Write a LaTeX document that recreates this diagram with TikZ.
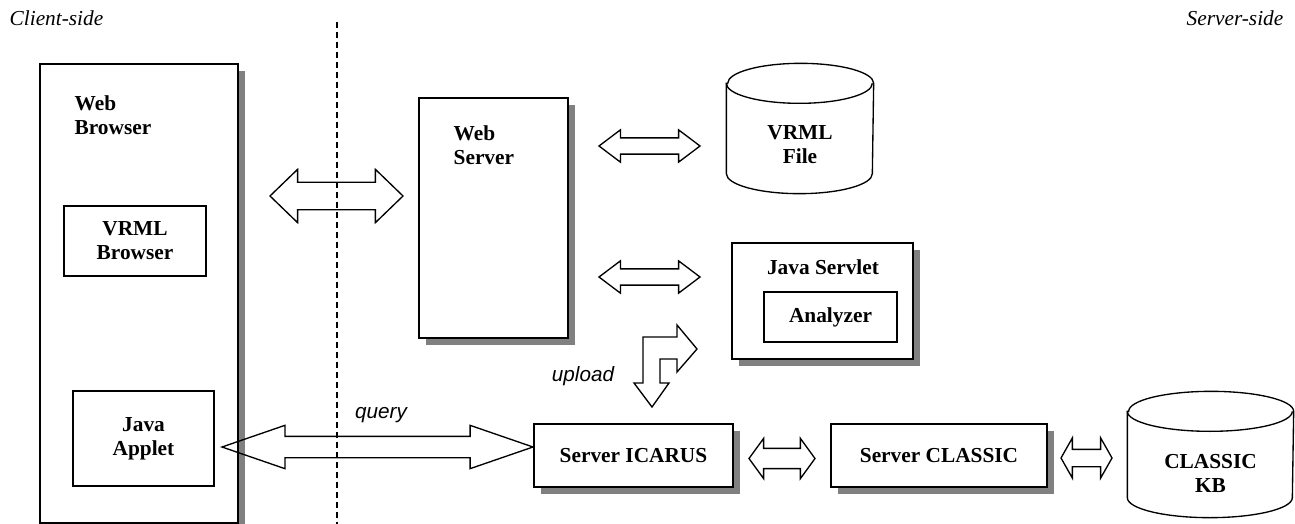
\documentclass[tikz,border=0pt]{standalone}
\usepackage{fontspec}
\setmainfont{Liberation Serif}
\newfontfamily\sansit{Liberation Sans}
\usetikzlibrary{shapes.arrows,shadows,calc}

\tikzset{every picture/.style={line width=1pt}}
\tikzset{
  blockbox/.style={draw, fill=white, inner sep=0pt, align=center, font=\bfseries\fontsize{16}{18}\selectfont},
  shadowed/.style={drop shadow={shadow xshift=5pt, shadow yshift=-5pt, fill=black!50, opacity=1}},
  boxlabel/.style={inner sep=0.75pt, align=left, font=\bfseries\fontsize{16}{18}\selectfont},
  sidelabel/.style={inner sep=0.75pt, font=\itshape\fontsize{16}{18}\selectfont},
  msglabel/.style={inner sep=0.75pt, font=\sansit\itshape\fontsize{15.5}{18}\selectfont},
  fatarrow/.style={double arrow, draw, inner xsep=0pt, double arrow head indent=0pt},
}

\begin{document}
\begin{tikzpicture}[x=0.75pt,y=0.75pt,yscale=-1,xscale=1]
%set diagram left start at 0, and has height of 524
\path [use as bounding box] (0,0) rectangle (1295,524);

% Text Node
\node [sidelabel, anchor=west] (clientside) at (8,18) {Client-side};
% Text Node
\node [sidelabel, anchor=east] (serverside) at (1285,18) {Server-side};

%Shape: Rectangle [Web Browser]
\node [blockbox, shadowed, minimum width=148.5pt, minimum height=344.25pt] (browser) at (139,293.5) {};
\node [boxlabel, anchor=west] (browserlbl) at (73,115.5) {Web\\Browser};
%Shape: Rectangle [VRML Browser]
\node [blockbox, minimum width=106.5pt, minimum height=52.5pt] (vrmlbrowser) at (135,241) {VRML\\Browser};
%Shape: Rectangle [Java Applet]
\node [blockbox, minimum width=105.75pt, minimum height=71.25pt] (applet) at (143.5,438.5) {Java\\Applet};

%Shape: Rectangle [Web Server]
\node [blockbox, shadowed, minimum width=111.75pt, minimum height=180pt] (webserver) at (493.5,218) {};
\node [boxlabel, anchor=west] (webserverlbl) at (452,145) {Web\\Server};

%Shape: Can [VRML File]
\node [inner sep=0pt, minimum width=109.5pt, minimum height=96.75pt] (vrmlfile) at (800,128.5) {};
\draw [fill=white] ($(vrmlfile.north west)+(0,20)$) -- ($(vrmlfile.south west)+(0,-20)$) arc [start angle=180, end angle=0, x radius=73, y radius=20] -- ($(vrmlfile.north east)+(0,20)$) arc [start angle=0, end angle=-180, x radius=73, y radius=20] -- cycle;
\draw ($(vrmlfile.north west)+(0,20)$) arc [start angle=180, end angle=0, x radius=73, y radius=20];
\node [boxlabel, align=center] (vrmlfilelbl) at (800,144.5) {VRML\\File};

%Shape: Rectangle [Java Servlet]
\node [blockbox, shadowed, minimum width=135.75pt, minimum height=87pt] (servlet) at (822.5,301) {};
\node [boxlabel] (servletlbl) at (823,267) {Java Servlet};
\node [blockbox, minimum width=99.75pt, minimum height=37.5pt] (analyzer) at (830.5,317) {Analyzer};

%Shape: Rectangle [Server ICARUS]
\node [blockbox, shadowed, minimum width=149.25pt, minimum height=47.25pt] (icarus) at (633.5,455.5) {Server ICARUS};
%Shape: Rectangle [Server CLASSIC]
\node [blockbox, shadowed, minimum width=162pt, minimum height=47.25pt] (classic) at (939,455.5) {Server CLASSIC};

%Shape: Can [CLASSIC KB]
\node [inner sep=0pt, minimum width=123.75pt, minimum height=93.75pt] (kb) at (1210.5,454.5) {};
\draw [fill=white] ($(kb.north west)+(0,20)$) -- ($(kb.south west)+(0,-20)$) arc [start angle=180, end angle=0, x radius=82.5, y radius=20] -- ($(kb.north east)+(0,20)$) arc [start angle=0, end angle=-180, x radius=82.5, y radius=20] -- cycle;
\draw ($(kb.north west)+(0,20)$) arc [start angle=180, end angle=0, x radius=82.5, y radius=20];
\node [boxlabel, align=center] (kblbl) at (1210.5,473) {CLASSIC\\KB};

%Shape: Double Arrows
\node [fatarrow, minimum height=99.75pt, inner ysep=9.75pt, double arrow head extend=9.75pt, double arrow tip angle=88] (browserlink) at (336.5,196) {};
\node [fatarrow, minimum height=75.75pt, inner ysep=5.6pt, double arrow head extend=6pt, double arrow tip angle=74] (filelink) at (649.5,146) {};
\node [fatarrow, minimum height=75.75pt, inner ysep=5.6pt, double arrow head extend=6pt, double arrow tip angle=74] (servletlink) at (649.5,277) {};
\node [fatarrow, minimum height=233.25pt, inner ysep=7.5pt, double arrow head extend=8.25pt, double arrow tip angle=38] (querylink) at (377.5,447) {};
\node [fatarrow, minimum height=49.5pt, inner ysep=7.1pt, double arrow head extend=7.5pt, double arrow tip angle=108] (classiclink) at (782,458.5) {};
\node [fatarrow, minimum height=38.25pt, inner ysep=6pt, double arrow head extend=8.6pt, double arrow tip angle=121] (kblink) at (1086.5,458) {};

%Shape: Bent Arrow [upload]
\draw (652,407) -- (634,383) -- (643,383) -- (643,337) -- (677,337) -- (677,325) -- (697,349) -- (677,372) -- (677,359) -- (660,359) -- (660,383) -- (669,383) -- cycle;

% Text Node
\node [msglabel] (uploadlbl) at (583,376) {upload};
% Text Node
\node [msglabel] (querylbl) at (381,415) {query};

%Straight Lines [client/server split]
\draw [dash pattern={on 4.5pt off 3pt}] (337,22) -- (337,524);
\end{tikzpicture}
\end{document}
